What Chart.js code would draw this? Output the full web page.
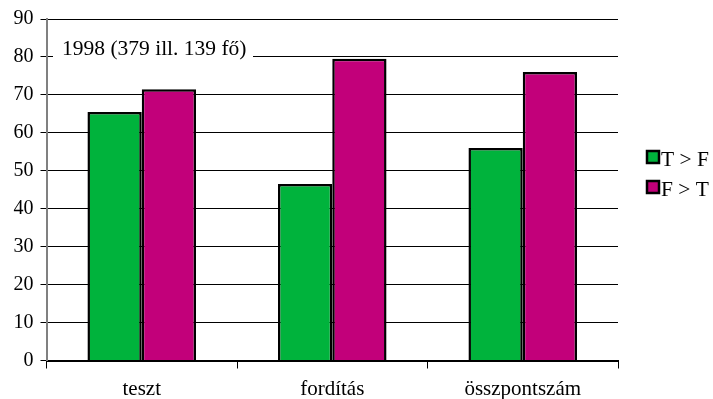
<!DOCTYPE html>
<html>
<head>
<meta charset="utf-8">
<script src="https://cdn.jsdelivr.net/npm/chart.js@4/dist/chart.umd.min.js"></script>
<style>
  html, body { margin: 0; padding: 0; background: #ffffff; }
  #chartBox { width: 713px; height: 399px; }
</style>
</head>
<body>
<div id="chartBox"><canvas id="barChart" width="713" height="399"></canvas></div>
<script>
const categories = ['teszt', 'fordítás', 'összpontszám'];
const seriesNames = ['T > F', 'F > T'];
const valuesTF = [65.5, 46.5, 56];
const valuesFT = [71.5, 79.5, 76];
const seriesColors = ['#00B33C', '#C2007A'];
const yTicks = [0, 10, 20, 30, 40, 50, 60, 70, 80, 90];
const titleNote = '1998 (379 ill. 139 fő)';

const serifFamily = "'Liberation Serif', 'Times New Roman', serif";
Chart.defaults.font.family = serifFamily;
Chart.defaults.color = '#000000';

// white box with the year note, drawn over the grid but under the bars
const notePlugin = {
    id: 'noteBox',
    beforeDatasetsDraw(chart) {
        let ctx = chart.ctx;
        ctx.save();
        ctx.fillStyle = '#ffffff';
        ctx.fillRect(53, 38, 200, 22);
        ctx.fillStyle = '#000000';
        ctx.font = '21.5px ' + serifFamily;
        ctx.textBaseline = 'alphabetic';
        ctx.fillText(titleNote, 62, 55);
        ctx.restore();
    }
};

// legend on the right: small bordered squares and labels
const sideLegend = {
    id: 'sideLegend',
    afterDraw(chart) {
        let ctx = chart.ctx;
        ctx.save();
        chart.data.datasets.forEach((ds, i) => {
            let top = 150 + i * 30;
            ctx.fillStyle = ds.backgroundColor;
            ctx.fillRect(647, top + 1, 12, 12);
            ctx.strokeStyle = '#000000';
            ctx.lineWidth = 2.5;
            ctx.strokeRect(647, top + 1, 12, 12);
            ctx.fillStyle = '#000000';
            ctx.font = '21.5px ' + serifFamily;
            ctx.textBaseline = 'alphabetic';
            ctx.fillText(ds.label, 661, top + 16);
        });
        ctx.restore();
    }
};

const ctx = document.getElementById('barChart').getContext('2d');
window.chart = new Chart(ctx, {
    type: 'bar',
    data: {
        labels: categories,
        datasets: [
            {
                label: seriesNames[0],
                data: valuesTF,
                backgroundColor: seriesColors[0],
                borderColor: '#000000',
                borderWidth: 2.5,
                categoryPercentage: 0.57,
                barPercentage: 1.0
            },
            {
                label: seriesNames[1],
                data: valuesFT,
                backgroundColor: seriesColors[1],
                borderColor: '#000000',
                borderWidth: 2.5,
                categoryPercentage: 0.57,
                barPercentage: 1.0
            }
        ]
    },
    options: {
        responsive: false,
        animation: false,
        layout: { padding: { top: 18, right: 95, left: 0, bottom: 0 } },
        scales: {
            x: {
                offset: true,
                grid: {
                    display: true,
                    offset: true,
                    drawOnChartArea: false,
                    drawTicks: true,
                    tickLength: 8,
                    color: '#000000',
                    lineWidth: 1
                },
                border: { color: '#000000', width: 2 },
                ticks: {
                    color: '#000000',
                    font: { family: serifFamily, size: 21 },
                    padding: 8,
                    maxRotation: 0
                },
                afterFit: (scale) => { scale.height = 38.5; }
            },
            y: {
                min: 0,
                max: 90,
                afterBuildTicks: (scale) => { scale.ticks = yTicks.map(v => ({ value: v })); },
                grid: {
                    color: '#000000',
                    lineWidth: 1,
                    drawTicks: true,
                    tickLength: 6
                },
                border: { color: '#808080', width: 2 },
                ticks: {
                    color: '#000000',
                    font: { family: serifFamily, size: 20 },
                    padding: 7
                },
                afterFit: (scale) => { scale.width = 46.5; }
            }
        },
        plugins: {
            legend: { display: false },
            tooltip: { enabled: false }
        }
    },
    plugins: [notePlugin, sideLegend]
});
</script>
</body>
</html>
